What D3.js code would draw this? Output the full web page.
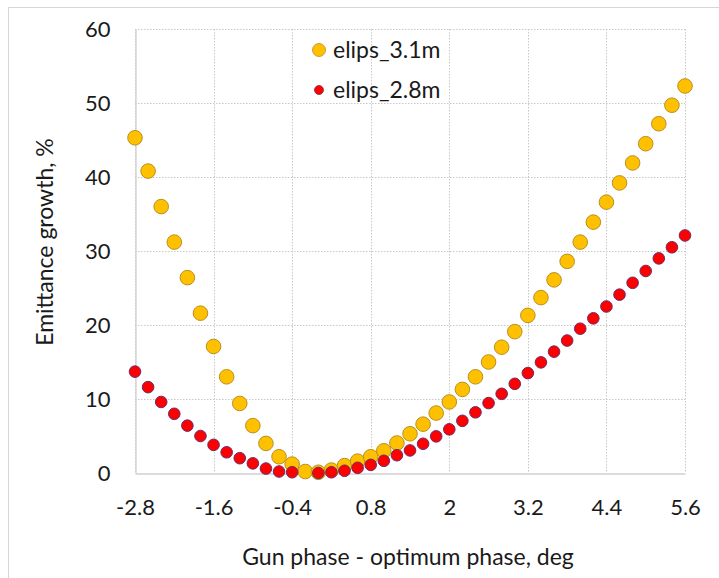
<!DOCTYPE html>
<html>
<head>
<meta charset="utf-8">
<script src="https://cdn.jsdelivr.net/npm/d3@7"></script>
<style>
  html, body { margin: 0; padding: 0; background: #fff; }
  svg { display: block; }
  text { font-family: Lato, "Open Sans", sans-serif; fill: #1a1a1a; }
</style>
</head>
<body>
<svg id="chart" width="719" height="578"></svg>
<script>
// Gun phase offset from optimum (deg), 0.2 deg steps
const phase = [
  -2.8, -2.6, -2.4, -2.2, -2.0, -1.8, -1.6, -1.4, -1.2, -1.0, -0.8, -0.6, -0.4, -0.2,
   0.0,  0.2,  0.4,  0.6,  0.8,  1.0,  1.2,  1.4,  1.6,  1.8,  2.0,  2.2,  2.4,  2.6,
   2.8,  3.0,  3.2,  3.4,  3.6,  3.8,  4.0,  4.2,  4.4,  4.6,  4.8,  5.0,  5.2,  5.4, 5.6
];

// Emittance growth, % — ellipsoid at 3.1 m
const elips31 = [
  45.3, 40.8, 36.0, 31.2, 26.4, 21.6, 17.1, 13.0, 9.4, 6.4, 4.0, 2.2, 1.2, 0.2,
   0.1,  0.4,  1.0,  1.6,  2.2,  3.0,  4.05, 5.3, 6.6, 8.1, 9.6, 11.3, 13.0, 15.0,
  17.0, 19.1, 21.3, 23.7, 26.1, 28.6, 31.2, 33.9, 36.6, 39.2, 41.9, 44.5, 47.2, 49.7, 52.3
];

// Emittance growth, % — ellipsoid at 2.8 m (no point at -0.2 deg)
const elips28 = [
  13.7, 11.6, 9.6, 8.0, 6.4, 5.0, 3.8, 2.8, 2.0, 1.3, 0.6, 0.2, 0.1, null,
   0.0,  0.1, 0.3, 0.7, 1.1, 1.65, 2.4, 3.05, 3.95, 4.95, 5.9, 7.05, 8.2, 9.45,
  10.7, 12.05, 13.5, 14.95, 16.4, 17.9, 19.5, 20.9, 22.5, 24.1, 25.7, 27.3, 29.0, 30.5, 32.1
];

const seriesNames = ["elips_3.1m", "elips_2.8m"];
const xTicks = [-2.8, -1.6, -0.4, 0.8, 2, 3.2, 4.4, 5.6];
const yTicks = [0, 10, 20, 30, 40, 50, 60];

const svg = d3.select("#chart");

// outer chart frame (only its top and left edges fall inside the view)
svg.append("rect")
  .attr("x", 8.5).attr("y", 7.5)
  .attr("width", 760).attr("height", 620)
  .attr("fill", "none").attr("stroke", "#d6d6d6").attr("stroke-width", 1);

const plot = { left: 135, right: 685, top: 29, bottom: 473 };

const x = d3.scaleLinear().domain([-2.8, 5.6]).range([plot.left, plot.right]);
const y = d3.scaleLinear().domain([0, 60]).range([plot.bottom, plot.top]);

// gridlines
const grid = svg.append("g");
grid.selectAll("line.v").data(xTicks).join("line")
  .attr("class", "v")
  .attr("x1", d => Math.round(x(d)) + 0.5).attr("x2", d => Math.round(x(d)) + 0.5)
  .attr("y1", plot.top).attr("y2", plot.bottom)
  .attr("stroke", "#c8c8c8").attr("stroke-width", 1).attr("stroke-dasharray", "1.5,1.5");
grid.selectAll("line.h").data(yTicks.filter(d => d > 0)).join("line")
  .attr("class", "h")
  .attr("x1", plot.left).attr("x2", plot.right)
  .attr("y1", d => Math.round(y(d)) + 0.5).attr("y2", d => Math.round(y(d)) + 0.5)
  .attr("stroke", "#c8c8c8").attr("stroke-width", 1).attr("stroke-dasharray", "1.5,1.5");

// axes
const tickFont = 22;
const xAxis = d3.axisBottom(x).tickValues(xTicks).tickSize(0).tickPadding(26)
  .tickFormat(d => String(d));
const gx = svg.append("g").attr("transform", `translate(0,${Math.round(y(0)) + 0.5})`).call(xAxis);
gx.select(".domain").attr("stroke", "#d0d0d0").attr("stroke-width", 1.3);
gx.selectAll("text").attr("font-size", tickFont).attr("fill", "#1a1a1a")
  .style("font-family", "Lato, 'Open Sans', sans-serif");

const yAxis = d3.axisLeft(y).tickValues(yTicks).tickSize(0).tickPadding(25);
const gy = svg.append("g").attr("transform", `translate(${Math.round(x(-2.8)) + 0.5},0)`).call(yAxis);
gy.select(".domain").attr("stroke", "#d0d0d0").attr("stroke-width", 1.3);
gy.selectAll("text").attr("font-size", tickFont).attr("fill", "#1a1a1a")
  .style("font-family", "Lato, 'Open Sans', sans-serif");

// axis titles
svg.append("text")
  .attr("x", 408).attr("y", 565)
  .attr("text-anchor", "middle").attr("font-size", 23)
  .text("Gun phase - optimum phase, deg");
svg.append("text")
  .attr("transform", "translate(53,242) rotate(-90)")
  .attr("text-anchor", "middle").attr("font-size", 23)
  .text("Emittance growth, %");

// series markers
const yellowPts = phase.map((p, i) => ({ p, v: elips31[i] })).filter(d => d.v != null);
const redPts = phase.map((p, i) => ({ p, v: elips28[i] })).filter(d => d.v != null);

svg.append("g").selectAll("circle").data(yellowPts).join("circle")
  .attr("cx", d => x(d.p)).attr("cy", d => y(d.v)).attr("r", 7.3)
  .attr("fill", "#FFC000").attr("stroke", "#B89020").attr("stroke-width", 1);

svg.append("g").selectAll("circle").data(redPts).join("circle")
  .attr("cx", d => x(d.p)).attr("cy", d => y(d.v)).attr("r", 5.8)
  .attr("fill", "#FF0000").attr("stroke", "#6A2A6A").attr("stroke-width", 1);

// legend
const legend = svg.append("g");
const legendItems = [
  { name: seriesNames[0], color: "#FFC000", stroke: "#B89020", r: 6.5, cy: 50 },
  { name: seriesNames[1], color: "#FF0000", stroke: "#8A2A4A", r: 4.5, cy: 90 }
];
legend.selectAll("circle").data(legendItems).join("circle")
  .attr("cx", 319).attr("cy", d => d.cy).attr("r", d => d.r)
  .attr("fill", d => d.color).attr("stroke", d => d.stroke).attr("stroke-width", 0.8);
legend.selectAll("text").data(legendItems).join("text")
  .attr("x", 333).attr("y", d => d.cy + 8)
  .attr("font-size", 23)
  .text(d => d.name);
</script>
</body>
</html>
